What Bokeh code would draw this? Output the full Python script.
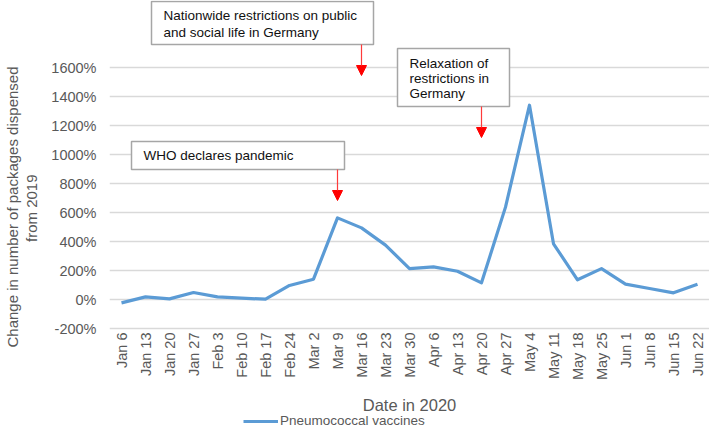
from bokeh.plotting import figure
from bokeh.models import (Range1d, FixedTicker, PrintfTickFormatter, Legend, LegendItem,
                          Label, Arrow, NormalHead, Title, LinearAxis, CustomJSTickFormatter)
from bokeh.embed import file_html
from bokeh.resources import INLINE
import math

# ---------------- data ----------------
dates = ["Jan 6", "Jan 13", "Jan 20", "Jan 27", "Feb 3", "Feb 10", "Feb 17", "Feb 24",
         "Mar 2", "Mar 9", "Mar 16", "Mar 23", "Mar 30", "Apr 6", "Apr 13", "Apr 20",
         "Apr 27", "May 4", "May 11", "May 18", "May 25", "Jun 1", "Jun 8", "Jun 15", "Jun 22"]
pneumococcal_pct = [-23, 18, 4, 48, 18, 9, 2, 97, 140, 563, 494, 375, 213, 225, 195, 115,
                    637, 1340, 384, 136, 213, 106, 76, 46, 106]
y_ticks = [-200, 0, 200, 400, 600, 800, 1000, 1200, 1400, 1600]
series_name = "Pneumococcal vaccines"
x_title = "Date in 2020"
y_title_lines = ["Change in number of packages dispensed", "from 2019"]

events = [
    # (text lines, date of arrow)
    (["Nationwide restrictions on public", "and social life in Germany"], "Mar 16"),
    (["Relaxation of", "restrictions in", "Germany"], "Apr 20"),
    (["WHO declares pandemic"], "Mar 9"),
]

# ---------------- layout ----------------
FONT = "Liberation Sans"
GREY = "#595959"
BLUE = "#5B9BD5"
LEFT = 109
FRAME_W, FRAME_H = 600, 428
PX_PER_PCT = 261 / 1800.0          # pixels per percentage point
Y_TOP = 1600 + 67 / PX_PER_PCT     # 1600% gridline 67px below the top
Y_MIN = Y_TOP - FRAME_H / PX_PER_PCT

n = len(dates)
xs = [i + 0.5 for i in range(n)]

p = figure(frame_width=FRAME_W, frame_height=FRAME_H, output_backend="svg",
           toolbar_location=None, x_range=Range1d(0, n), y_range=Range1d(Y_MIN, Y_TOP),
           min_border_left=LEFT, min_border_right=0, min_border_top=0,
           min_border_bottom=0)
p.outline_line_color = None
p.background_fill_color = "white"
p.border_fill_color = "white"

# page-pixel helpers for annotation placement
def px_x(page_x):
    return (page_x - LEFT) / FRAME_W * n

def px_y(page_y):
    return Y_TOP - page_y / PX_PER_PCT

# grid
p.xgrid.grid_line_color = None
p.ygrid.grid_line_color = "#D9D9D9"
p.ygrid.grid_line_width = 1.3
p.ygrid.ticker = FixedTicker(ticks=y_ticks)

# y axis
p.yaxis.ticker = FixedTicker(ticks=y_ticks)
p.yaxis.formatter = PrintfTickFormatter(format="%d%%")
p.yaxis.axis_line_color = None
p.yaxis.major_tick_line_color = None
p.yaxis.minor_tick_line_color = None
p.yaxis.major_tick_out = 0
p.yaxis.major_tick_in = 0
p.yaxis.minor_tick_out = 0
p.yaxis.major_label_standoff = 13
p.yaxis.major_label_text_font = FONT
p.yaxis.major_label_text_font_size = "14.5px"
p.yaxis.major_label_text_color = GREY

# blank spacer between the tick labels and the y-axis title
spacer = LinearAxis(ticker=FixedTicker(ticks=[0]),
                    formatter=CustomJSTickFormatter(code="return ''"),
                    axis_line_color=None, major_tick_line_color=None,
                    minor_tick_line_color=None, major_tick_out=9, major_tick_in=0,
                    minor_tick_out=0, major_label_standoff=0)
p.add_layout(spacer, "left")

# y-axis title: two centred lines
t2 = Title(text=y_title_lines[1], align="right", offset=208 - 34, standoff=0,
           text_font=FONT, text_font_size="15px", text_font_style="normal",
           text_color=GREY)
t1 = Title(text=y_title_lines[0], align="right", offset=207 - 141, standoff=0,
           text_font=FONT, text_font_size="15px", text_font_style="normal",
           text_color=GREY)
p.add_layout(t2, "left")
p.add_layout(t1, "left")

# x axis, drawn along the -200% gridline
p.xaxis.fixed_location = -200
p.xaxis.ticker = FixedTicker(ticks=xs)
p.xaxis.major_label_overrides = {x: d for x, d in zip(xs, dates)}
p.xaxis.major_label_orientation = math.pi / 2
p.xaxis.axis_line_color = None
p.xaxis.major_tick_line_color = None
p.xaxis.minor_tick_line_color = None
p.xaxis.major_tick_out = 0
p.xaxis.major_tick_in = 0
p.xaxis.minor_tick_out = 0
p.xaxis.major_label_standoff = 4
p.xaxis.major_label_text_font = FONT
p.xaxis.major_label_text_font_size = "14.5px"
p.xaxis.major_label_text_color = GREY

p.add_layout(Label(x=n / 2, y=px_y(404), text=x_title, text_font=FONT,
                   text_font_size="16.5px", text_color=GREY,
                   text_align="center", text_baseline="middle"))

# series
r = p.line(xs, pneumococcal_pct, line_color=BLUE, line_width=3.2, line_join="round")

legend = Legend(items=[LegendItem(label=series_name, renderers=[r])],
                location=(134, 0), orientation="horizontal",
                border_line_color=None, background_fill_alpha=0,
                padding=0, margin=0, spacing=0,
                glyph_width=35, glyph_height=14, label_height=14, label_standoff=2,
                label_text_font=FONT, label_text_font_size="13.5px", label_text_color=GREY)
p.add_layout(legend)

# ---------------- annotation boxes ----------------
# (left, right, top, bottom) in page px, text left, line centres, arrow tip
boxes = [
    dict(l=151, r=373, t=1, b=44, tx=163, ty=[15, 31.5], ay=75),
    dict(l=397, r=509, t=48, b=106, tx=409, ty=[63, 78, 93], ay=137),
    dict(l=131, r=344, t=141, b=169, tx=143, ty=[155], ay=200),
]

for (lines, date), bx in zip(events, boxes):
    p.quad(left=[px_x(bx["l"])], right=[px_x(bx["r"])], top=[px_y(bx["t"])],
           bottom=[px_y(bx["b"])], fill_color="white", line_color="#A6A6A6",
           line_width=1.5)
    for line, ty in zip(lines, bx["ty"]):
        p.add_layout(Label(x=px_x(bx["tx"]), y=px_y(ty), text=line, text_font=FONT,
                           text_font_size="13.5px", text_color="#111111",
                           text_baseline="middle", text_align="left"))
    ax = dates.index(date) + 0.5
    p.add_layout(Arrow(x_start=ax, y_start=px_y(bx["b"]), x_end=ax, y_end=px_y(bx["ay"]),
                       line_color="#FF3B3B", line_width=1.2,
                       end=NormalHead(size=10, fill_color="#FF0000",
                                      line_color="#FF0000", line_width=1)))

open("out.html", "w").write(file_html(p, INLINE))
